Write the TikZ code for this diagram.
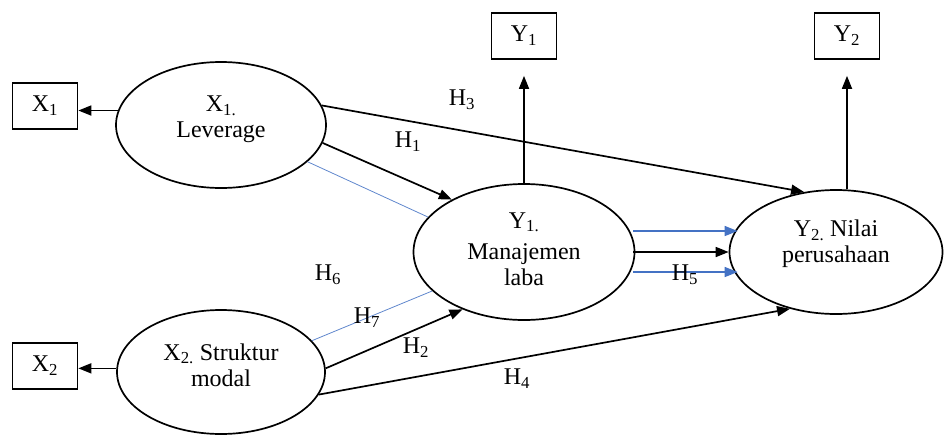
\documentclass[tikz,border=0pt]{standalone}
\usepackage{fontspec}
\setmainfont{Liberation Serif}
\usetikzlibrary{shapes.geometric,arrows.meta}
\definecolor{wblue}{RGB}{68,114,196}
\begin{document}
\begin{tikzpicture}[x=1pt,y=-1pt,
  lat/.style={draw,ellipse,line width=1.7pt,inner sep=0pt},
  lattext/.style={align=center,inner sep=0pt,font=\fontsize{24}{26}\selectfont},
  ind/.style={draw,rectangle,line width=1.7pt,minimum width=65pt,minimum height=46pt,inner sep=0pt,font=\fontsize{24}{26}\selectfont},
  arr/.style={line width=1.7pt,-{Triangle[length=13pt,width=10pt]}},
  barr/.style={wblue,line width=1.4pt,-{Triangle[length=13pt,width=10pt]}},
  bline/.style={wblue!85,line width=0.8pt},
  hlab/.style={font=\fontsize{24}{26}\selectfont,inner sep=0pt}]
\useasboundingbox (0,0) rectangle (945,437);
% indicator boxes
\node[ind] (bx1) at (45,106) {X\textsubscript{1}};
\node[ind] (bx2) at (45,366) {X\textsubscript{2}};
\node[ind] (by1) at (524,36) {Y\textsubscript{1}};
\node[ind] (by2) at (847,36) {Y\textsubscript{2}};
% latent variables
\node[lat,minimum width=210pt,minimum height=126pt,
  label={[lattext,yshift=6pt]center:X\textsubscript{1.}\\Leverage}] (x1) at (221,125) {};
\node[lat,minimum width=208pt,minimum height=124pt,
  label={[lattext,yshift=7pt]center:X\textsubscript{2.} Struktur\\modal}] (x2) at (221,372) {};
\node[lat,minimum width=221pt,minimum height=136pt,
  label={[lattext,yshift=3pt]center:Y\textsubscript{1.}\\[5pt]Manajemen\\laba}] (y1) at (524,252) {};
\node[lat,minimum width=213pt,minimum height=124pt,
  label={[lattext,yshift=8pt]center:Y\textsubscript{2.} Nilai\\perusahaan}] (y2) at (836,252) {};
% reflective arrows
\draw[arr] (x1.172) -- (x1.172 -| bx1.east);
\draw[arr] (x2.178) -- (x2.178 -| bx2.east);
\draw[arr,shorten >=16pt] (y1.north) -- (by1.south);
\draw[arr,shorten >=16pt] (by2.south |- y2.north) -- (by2.south);
% structural paths
\draw[arr] (x1.11) -- (y2.118);
\draw[arr] (x1.-10) -- (y1.144);
\draw[bline] (x1.-23) -- (y1.160);
\draw[bline] (x2.19) -- (y1.203);
\draw[arr] (x2.2) -- (y1.223);
\draw[arr] (x2.-13) -- (y2.231);
\draw[barr] ([xshift=-2pt,yshift=21pt]y1.east) -- ([xshift=9pt,yshift=21pt]y2.west);
\draw[arr] ([xshift=-2pt]y1.east) -- (y2.west);
\draw[barr] ([xshift=-2pt,yshift=-20pt]y1.east) -- ([xshift=9pt,yshift=-20pt]y2.west);
% labels
\node[hlab] (h3) at (462,100) {H\textsubscript{3}};
\node[hlab] (h1) at (408,142) {H\textsubscript{1}};
\node[hlab] (h6) at (328,275) {H\textsubscript{6}};
\node[hlab] (h7) at (367,318) {H\textsubscript{7}};
\node[hlab] (h2) at (416,348) {H\textsubscript{2}};
\node[hlab] (h4) at (517,379) {H\textsubscript{4}};
\node[hlab] (h5) at (685,275) {H\textsubscript{5}};
\end{tikzpicture}
\end{document}
